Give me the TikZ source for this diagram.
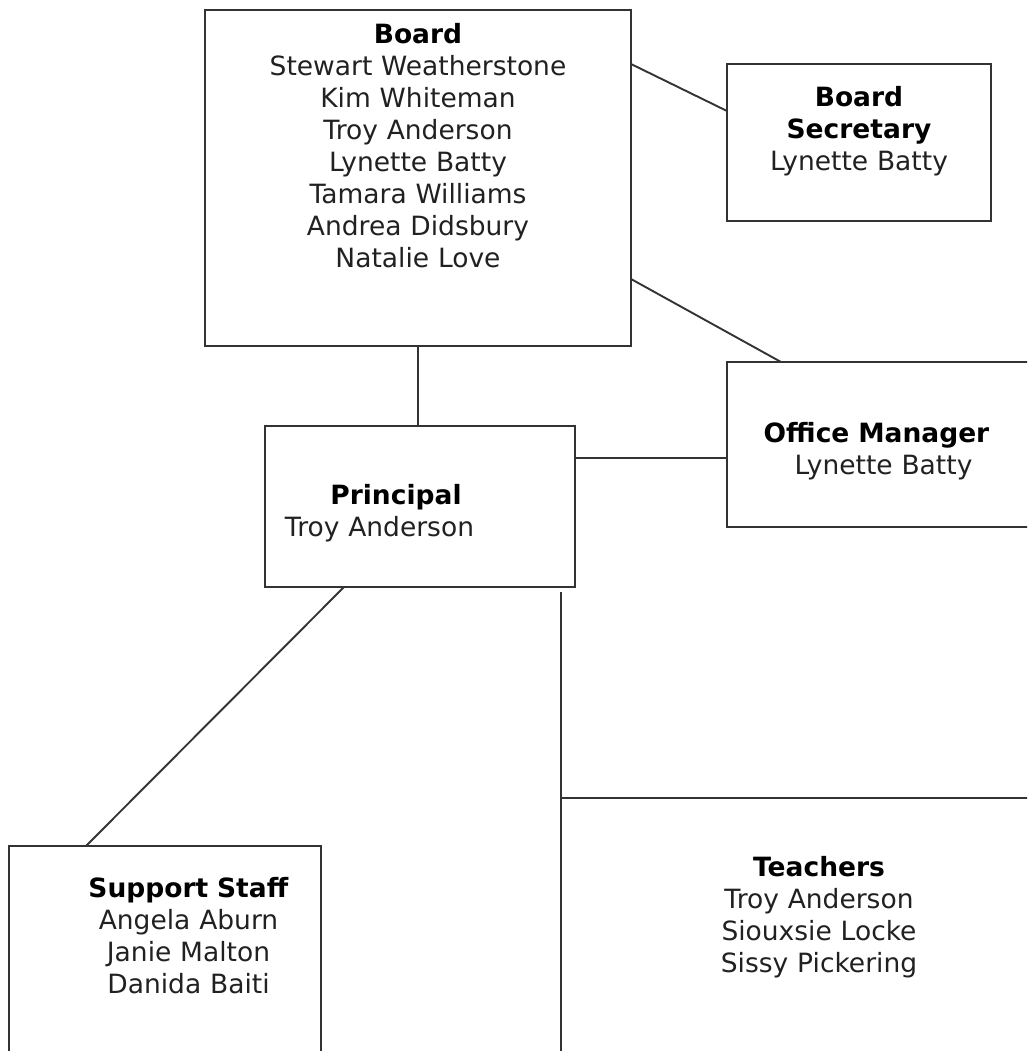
\documentclass[tikz,border=0pt]{standalone}
\usepackage{fontspec}
\setmainfont{DejaVu Sans}
\definecolor{linecol}{gray}{0.2}
\definecolor{namecol}{gray}{0.13}
\begin{document}
\begin{tikzpicture}[x=1pt,y=-1pt,
  box/.style={draw=linecol,line width=1.9pt,rectangle,inner sep=0pt,outer sep=0pt,anchor=north west},
  txt/.style={inner sep=0pt,anchor=base,text width=460pt,align=center,text=namecol,
    font=\fontsize{26.5}{32}\selectfont},
  conn/.style={draw=linecol,line width=1.9pt}]
\useasboundingbox (0,0) rectangle (1027,1051);
\clip (0,0) rectangle (1027,1051);

% boxes
\node[box,minimum width=426pt,minimum height=336pt] (board) at (205,10) {};
\node[box,minimum width=264pt,minimum height=157pt] (bsec) at (727,64) {};
\node[box,minimum width=400pt,minimum height=165pt] (office) at (727,362) {};
\node[box,minimum width=310pt,minimum height=161pt] (principal) at (265,426) {};
\node[box,minimum width=312pt,minimum height=300pt] (support) at (9,846) {};
\node[box,minimum width=520pt,minimum height=300pt] (teachers) at (561,798) {};

% texts
\node[txt] (boardT) at (418,44) {\textcolor{black}{\textbf{Board}}\\Stewart Weatherstone\\Kim Whiteman\\Troy Anderson\\Lynette Batty\\Tamara Williams\\Andrea Didsbury\\Natalie Love};
\node[txt] (bsecT) at (859,107) {\textcolor{black}{\textbf{Board}}\\\textcolor{black}{\textbf{Secretary}}\\Lynette Batty};
\node[txt] (officeT) at (876.5,442) {\textcolor{black}{\textbf{Office Manager}}\\\hspace*{14pt}Lynette Batty};
\node[txt] (principalT) at (379.5,504) {\hspace*{33pt}\textcolor{black}{\textbf{Principal}}\\Troy Anderson};
\node[txt] (supportT) at (188.5,897) {\textcolor{black}{\textbf{Support Staff}}\\Angela Aburn\\Janie Malton\\Danida Baiti};
\node[txt] (teachersT) at (819,876) {\textcolor{black}{\textbf{Teachers}}\\Troy Anderson\\Siouxsie Locke\\Sissy Pickering};

% connectors
\draw[conn] ([yshift=-54pt]board.north east) -- ([yshift=-47pt]bsec.north west);
\draw[conn] ([yshift=-269pt]board.north east) -- ([xshift=54pt]office.north west);
\draw[conn] (board.south) -- (board.south |- principal.north);
\coordinate (prR) at ([yshift=-32pt]principal.north east);
\draw[conn] (prR) -- (prR -| office.west);
\draw[conn] ([xshift=79pt]principal.south west) -- ([xshift=77pt]support.north west);
\path (principal.south -| teachers.north west) ++(0,5) coordinate (tpTop);
\draw[conn] (tpTop) -- (teachers.north west);
\end{tikzpicture}
\end{document}
